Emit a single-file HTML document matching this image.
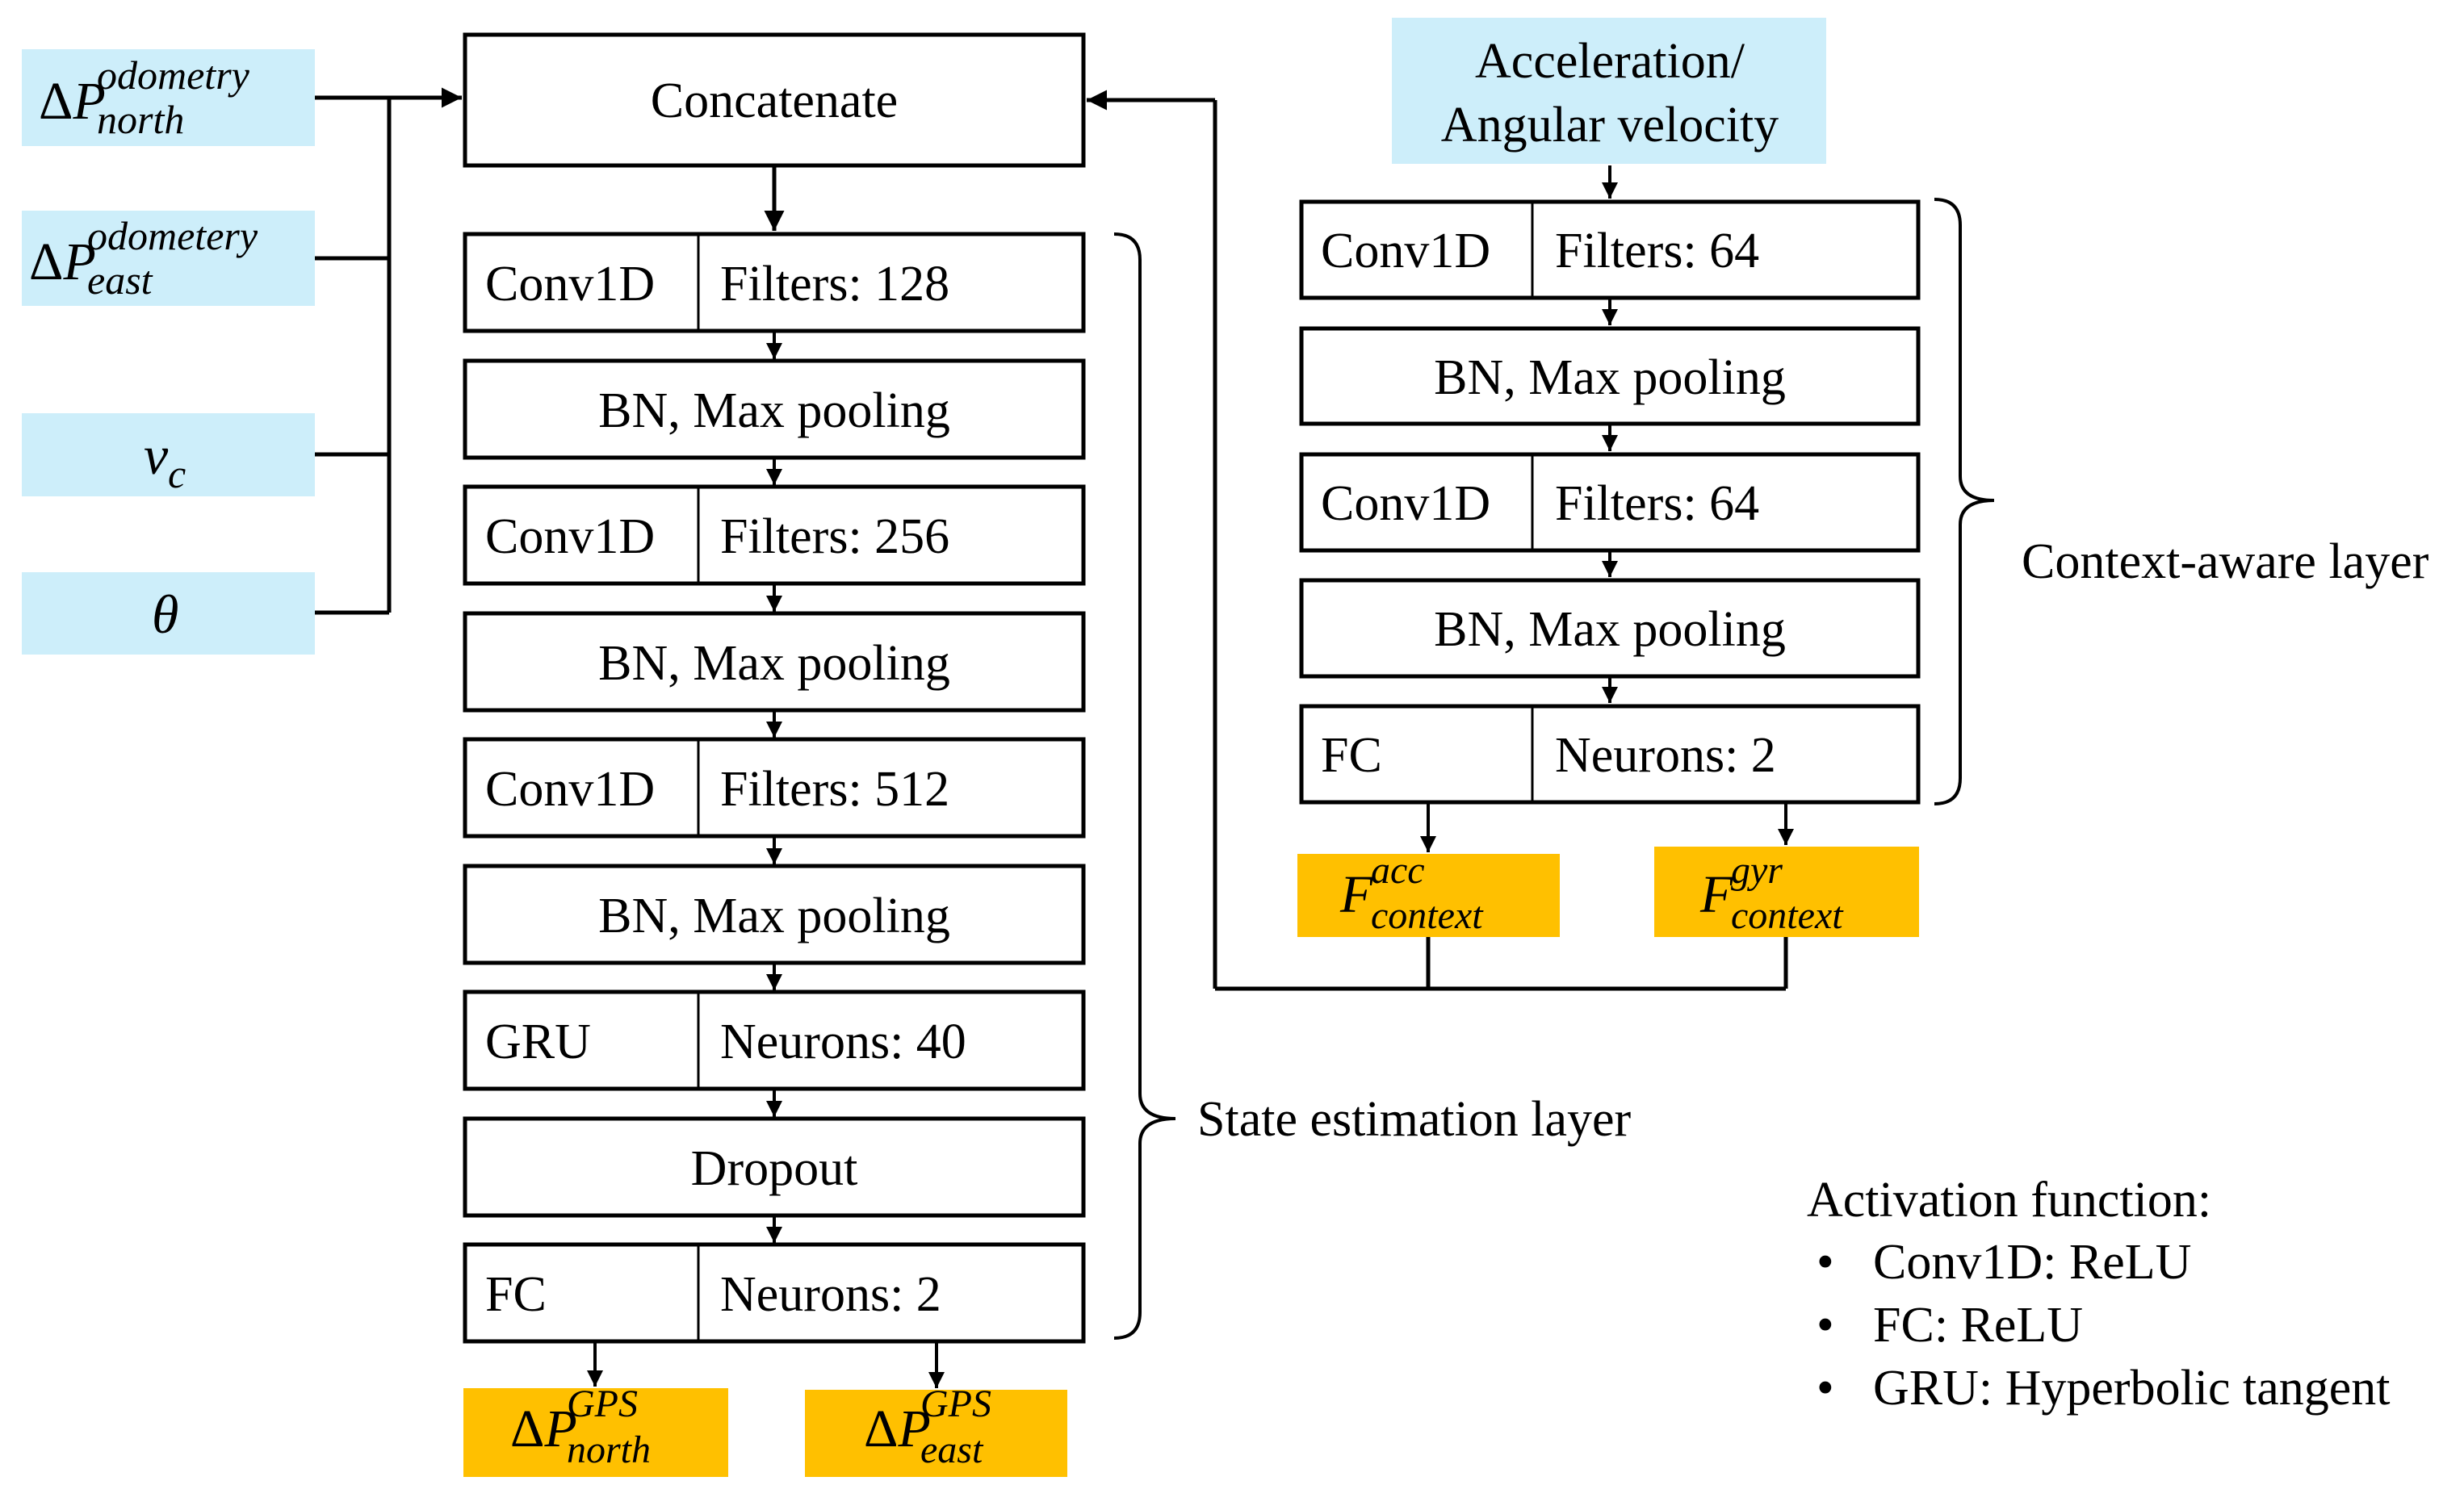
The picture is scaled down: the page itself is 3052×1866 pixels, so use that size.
<!DOCTYPE html>
<html><head><meta charset="utf-8"><style>
html,body{margin:0;padding:0;background:#fff}
svg{display:block}
text{font-family:"Liberation Serif",serif;fill:#000}
.t{font-size:62px}
.m{font-style:italic}
.u{font-style:normal}
</style></head><body>
<svg width="3052" height="1866" viewBox="0 0 3052 1866" xmlns="http://www.w3.org/2000/svg" font-family="Liberation Serif, serif">
<defs><marker id="a" viewBox="0 0 10 10" refX="10" refY="5" markerWidth="5" markerHeight="5" orient="auto"><path d="M0,0L10,5L0,10z" fill="#000"/></marker></defs>
<g fill="#cdeefa">
<rect x="27" y="61" width="363" height="120"/>
<rect x="27" y="261" width="363" height="118"/>
<rect x="27" y="512" width="363" height="103"/>
<rect x="27" y="709" width="363" height="102"/>
<rect x="1724" y="22" width="538" height="181"/>
</g>
<g fill="#ffc000">
<rect x="574" y="1720" width="328" height="110"/>
<rect x="997" y="1722" width="325" height="108"/>
<rect x="1607" y="1058" width="325" height="103"/>
<rect x="2049" y="1049" width="328" height="112"/>
</g>
<g stroke="#000" stroke-width="5" fill="none">
<path d="M390,121H482M390,320H482M390,563H482M390,759H482M482,121V759"/>
<path d="M482,121H572" marker-end="url(#a)"/>
<rect x="576" y="43" width="766" height="162"/>
<path d="M959,207V286" marker-end="url(#a)"/>
<rect x="576" y="290" width="766" height="120"/>
<rect x="576" y="447" width="766" height="120"/>
<rect x="576" y="603" width="766" height="120"/>
<rect x="576" y="760" width="766" height="120"/>
<rect x="576" y="916" width="766" height="120"/>
<rect x="576" y="1073" width="766" height="120"/>
<rect x="576" y="1229" width="766" height="120"/>
<rect x="576" y="1386" width="766" height="120"/>
<rect x="576" y="1542" width="766" height="120"/>
<path d="M865,290V410M865,603V723M865,916V1036M865,1229V1349M865,1542V1662" stroke-width="3"/>
<g stroke-width="4">
<path d="M959,412V445" marker-end="url(#a)"/>
<path d="M959,569V601" marker-end="url(#a)"/>
<path d="M959,725V758" marker-end="url(#a)"/>
<path d="M959,882V914" marker-end="url(#a)"/>
<path d="M959,1038V1071" marker-end="url(#a)"/>
<path d="M959,1195V1227" marker-end="url(#a)"/>
<path d="M959,1351V1384" marker-end="url(#a)"/>
<path d="M959,1508V1540" marker-end="url(#a)"/>
<path d="M737,1664V1718" marker-end="url(#a)"/>
<path d="M1160,1664V1720" marker-end="url(#a)"/>
</g>
<rect x="1612" y="250" width="764" height="119"/>
<rect x="1612" y="407" width="764" height="118"/>
<rect x="1612" y="563" width="764" height="119"/>
<rect x="1612" y="719" width="764" height="119"/>
<rect x="1612" y="875" width="764" height="119"/>
<path d="M1898,250V369M1898,563V682M1898,875V994" stroke-width="3"/>
<g stroke-width="4">
<path d="M1994,205V246" marker-end="url(#a)"/>
<path d="M1994,371V403" marker-end="url(#a)"/>
<path d="M1994,527V559" marker-end="url(#a)"/>
<path d="M1994,684V715" marker-end="url(#a)"/>
<path d="M1994,840V871" marker-end="url(#a)"/>
<path d="M1769,996V1056" marker-end="url(#a)"/>
<path d="M2212,996V1047" marker-end="url(#a)"/>
</g>
<path d="M1769,1161V1225M2212,1161V1225M1505,1225H2212M1505,1225V124"/>
<path d="M1505,124H1346" marker-end="url(#a)"/>
<path stroke-width="4" d="M1380,290Q1412,290 1412,322V1355Q1412,1386 1456,1386Q1412,1386 1412,1417V1626Q1412,1658 1380,1658"/>
<path stroke-width="4" d="M2396,247Q2428,247 2428,279V590Q2428,620 2470,620Q2428,620 2428,650V964Q2428,996 2396,996"/>
</g>
<g class="t">
<text x="959" y="145" text-anchor="middle">Concatenate</text>
<text x="601" y="372">Conv1D</text><text x="892" y="372">Filters: 128</text>
<text x="959" y="529" text-anchor="middle">BN, Max pooling</text>
<text x="601" y="685">Conv1D</text><text x="892" y="685">Filters: 256</text>
<text x="959" y="842" text-anchor="middle">BN, Max pooling</text>
<text x="601" y="998">Conv1D</text><text x="892" y="998">Filters: 512</text>
<text x="959" y="1155" text-anchor="middle">BN, Max pooling</text>
<text x="601" y="1311">GRU</text><text x="892" y="1311">Neurons: 40</text>
<text x="959" y="1468" text-anchor="middle">Dropout</text>
<text x="601" y="1624">FC</text><text x="892" y="1624">Neurons: 2</text>
<text x="1636" y="331">Conv1D</text><text x="1926" y="331">Filters: 64</text>
<text x="1994" y="488" text-anchor="middle">BN, Max pooling</text>
<text x="1636" y="644">Conv1D</text><text x="1926" y="644">Filters: 64</text>
<text x="1994" y="800" text-anchor="middle">BN, Max pooling</text>
<text x="1636" y="956">FC</text><text x="1926" y="956">Neurons: 2</text>
<text x="1994" y="96" text-anchor="middle">Acceleration/</text>
<text x="1994" y="175" text-anchor="middle">Angular velocity</text>
<text x="2504" y="716">Context-aware layer</text>
<text x="1483" y="1407">State estimation layer</text>
<text x="2238" y="1507">Activation function:</text>
<text x="2250" y="1584">•</text><text x="2320" y="1584">Conv1D: ReLU</text>
<text x="2250" y="1662">•</text><text x="2320" y="1662">FC: ReLU</text>
<text x="2250" y="1740">•</text><text x="2320" y="1740">GRU: Hyperbolic tangent</text>
</g>
<g class="m">
<text x="48" y="147" font-size="66"><tspan class="u">Δ</tspan>P</text><text x="120" y="110" font-size="50">odometry</text><text x="120" y="165" font-size="50">north</text>
<text x="36" y="346" font-size="66"><tspan class="u">Δ</tspan>P</text><text x="108" y="309" font-size="50">odometery</text><text x="108" y="364" font-size="50">east</text>
<text x="178" y="587" font-size="68">v</text><text x="208" y="604" font-size="50">c</text>
<text x="188" y="784" font-size="68">θ</text>
<text x="632" y="1792" font-size="66"><tspan class="u">Δ</tspan>P</text><text x="702" y="1755" font-size="48">GPS</text><text x="702" y="1812" font-size="48">north</text>
<text x="1070" y="1792" font-size="66"><tspan class="u">Δ</tspan>P</text><text x="1140" y="1755" font-size="48">GPS</text><text x="1140" y="1812" font-size="48">east</text>
<text x="1660" y="1130" font-size="66">F</text><text x="1698" y="1094" font-size="48">acc</text><text x="1698" y="1150" font-size="48">context</text>
<text x="2106" y="1130" font-size="66">F</text><text x="2144" y="1094" font-size="48">gyr</text><text x="2144" y="1150" font-size="48">context</text>
</g>
</svg>
</body></html>
